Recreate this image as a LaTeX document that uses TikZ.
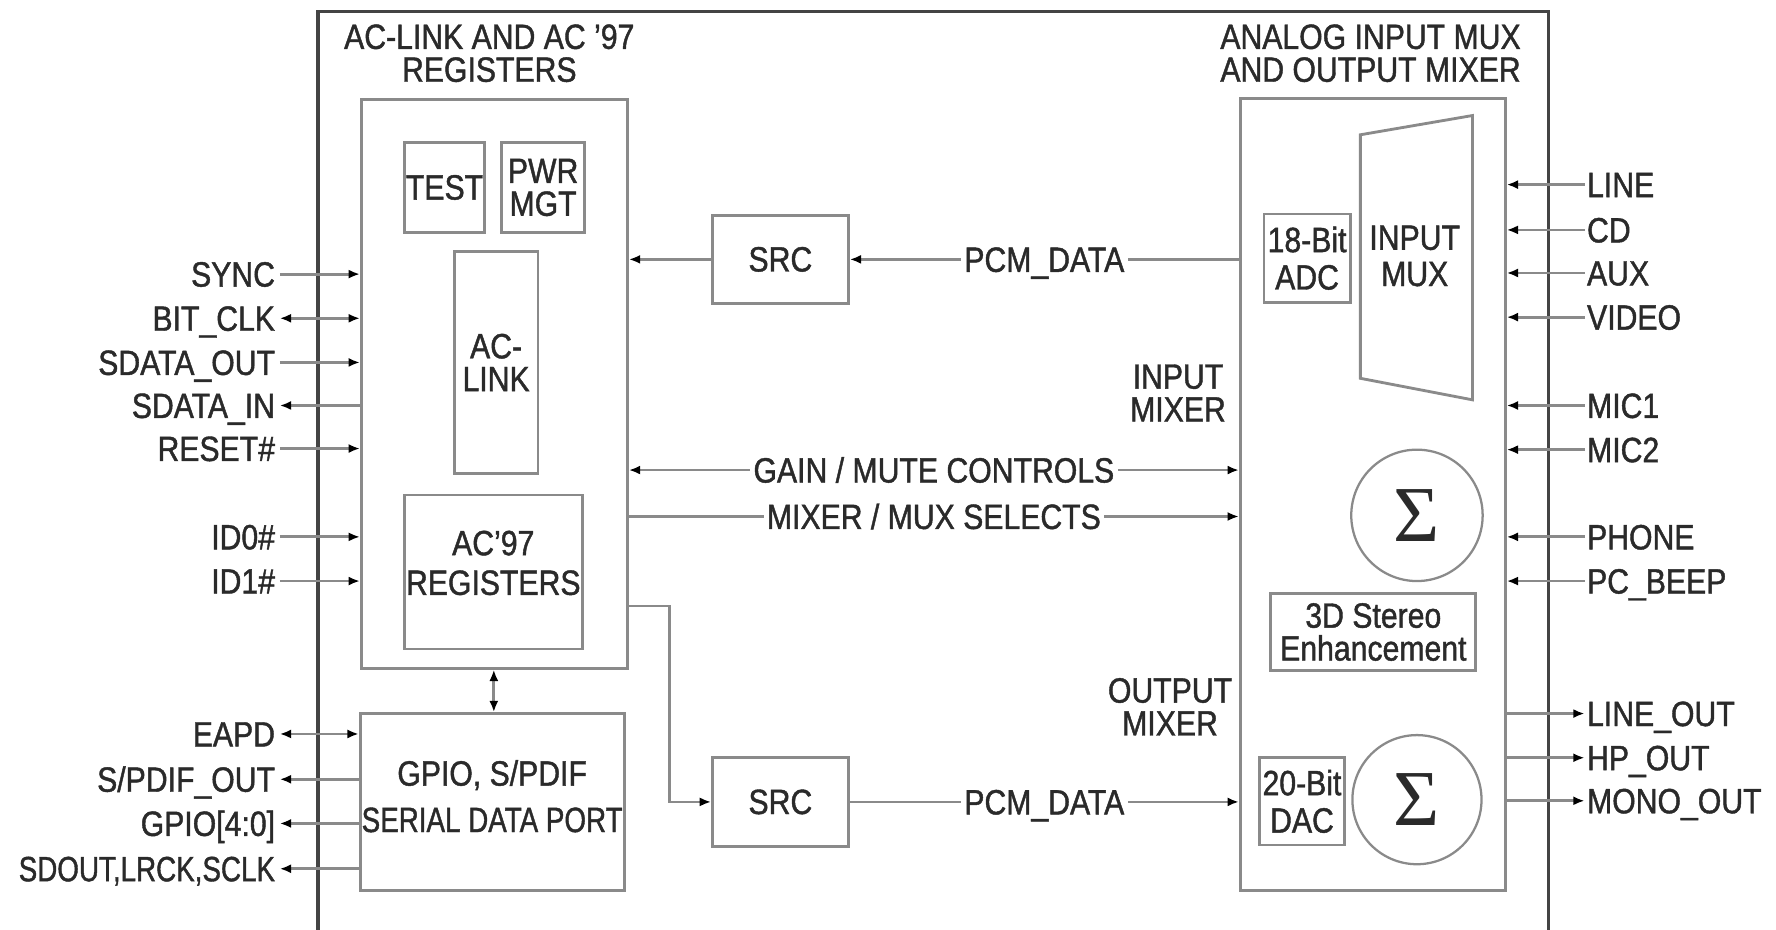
\documentclass[tikz,border=0pt]{standalone}
\usepackage{fontspec}
\setmainfont{Liberation Sans}[FakeStretch=0.86,FakeBold=1.2]
\newfontfamily\sigfont{Liberation Serif}
\usetikzlibrary{arrows.meta}
\definecolor{txt}{HTML}{2A2A2A}
\definecolor{ln}{HTML}{8A8A8A}
\definecolor{frm}{HTML}{444444}
\begin{document}
\begin{tikzpicture}[x=1pt,y=-1pt,
  font=\fontsize{31}{29}\selectfont, text=txt,
  >={Latex[length=10pt,width=8pt,color=black]},
  blk/.style={draw=ln, line width=2.5pt, inner sep=0pt, align=center},
  sig/.style={draw=ln, line width=2.5pt},
  lbl/.style={inner sep=0pt, text height=22pt, text depth=0pt},
  ttl/.style={inner sep=0pt, align=center},
  onl/.style={fill=white, inner sep=3pt, text height=22pt, text depth=0pt}]
\useasboundingbox (0,0) rectangle (1568,821);
% outer frame (open at bottom)
\draw[frm, line width=3.2pt] (281,821) -- (281,10) -- (1367,10) -- (1367,821);
% titles
\node[ttl] (t1) at (432,47) {AC-LINK AND AC '97\\REGISTERS};
\node[ttl] (t2) at (1210,47) {ANALOG INPUT MUX\\AND OUTPUT MIXER};
% left blocks
\node[blk, minimum width=235pt, minimum height=502pt] (acl) at (436.5,339) {};
\node[blk, minimum width=71pt, minimum height=79pt] (test) at (392.5,165.5) {TEST};
\node[blk, minimum width=73pt, minimum height=79pt] (pwr) at (479.5,165.5) {PWR\\MGT};
\node[blk, minimum width=74pt, minimum height=196pt] (link) at (438,320) {AC-\\LINK};
\node[blk, minimum width=157pt, minimum height=136pt,
  label={[ttl,yshift=8pt]center:{AC'97\\[6pt]REGISTERS}}] (regs) at (435.5,505) {};
\node[blk, minimum width=233pt, minimum height=156pt,
  label={[ttl,yshift=5pt]center:{GPIO, S/PDIF\\[12pt]\scalebox{0.92}[1]{SERIAL DATA PORT}}}] (gpio) at (434.5,708) {};
% SRC blocks
\node[blk, minimum width=120pt, minimum height=78pt] (src1) at (689,229) {SRC};
\node[blk, minimum width=120pt, minimum height=78pt] (src2) at (689,708) {SRC};
% right blocks
\node[blk, minimum width=234pt, minimum height=699pt] (amx) at (1212,436.5) {};
\node[blk, minimum width=76pt, minimum height=78pt] (adc) at (1154,228) {18-Bit\\[4pt]ADC};
\draw[ln, line width=2.5pt] (1201,119) -- (1300,102) -- (1300,353) -- (1201,334) -- cycle;
\node[ttl] (mux) at (1249,226) {INPUT\\[3pt]MUX};
\node[blk, circle, minimum size=116pt, line width=2pt] (sig1) at (1251,455) {\sigfont\fontsize{70}{70}\selectfont Σ};
\node[blk, circle, minimum size=114pt, line width=2pt] (sig2) at (1251,706) {\sigfont\fontsize{70}{70}\selectfont Σ};
\node[blk, minimum width=181pt, minimum height=68pt] (enh) at (1212.5,558) {3D Stereo\\Enhancement};
\node[blk, minimum width=75pt, minimum height=77pt] (dac) at (1149.5,707.5) {20-Bit\\[4pt]DAC};
\node[ttl] (imix) at (1040,347) {INPUT\\MIXER};
\node[ttl] (omix) at (1033,624) {OUTPUT\\MIXER};
% internal connectors
\draw[sig,->] (amx.west |- src1) -- node[onl] {PCM\_DATA} (src1.east);
\draw[sig,->] (src1.west) -- (acl.east |- src1);
\coordinate (gm) at (700,415);
\coordinate (ms) at (700,456);
\coordinate (jog) at (591,535);
\draw[sig,<->] (acl.east |- gm) -- node[onl] {GAIN / MUTE CONTROLS} (amx.west |- gm);
\draw[sig,->] (acl.east |- ms) -- node[onl] {MIXER / MUX SELECTS} (amx.west |- ms);
\draw[sig,->] (acl.east |- jog) -- (jog) |- (src2.west);
\draw[sig,->] (src2.east) -- node[onl] {PCM\_DATA} (amx.west |- src2);
\draw[sig,<->] (acl.south -| 436,0) -- (gpio.north -| 436,0);
% left signals
\node[lbl,anchor=east] (sync) at (243,242) {SYNC};
\node[lbl,anchor=east] (bclk) at (243,281) {BIT\_CLK};
\node[lbl,anchor=east] (sdo) at (243,320) {SDATA\_OUT};
\node[lbl,anchor=east] (sdi) at (243,358) {SDATA\_IN};
\node[lbl,anchor=east] (rst) at (243,396) {RESET\#};
\node[lbl,anchor=east] (id0) at (243,474) {ID0\#};
\node[lbl,anchor=east] (id1) at (243,513) {ID1\#};
\node[lbl,anchor=east] (eapd) at (243,648) {EAPD};
\node[lbl,anchor=east] (spd) at (243,688) {S/PDIF\_OUT};
\node[lbl,anchor=east] (gp) at (243,727) {GPIO[4:0]};
\node[lbl,anchor=east] (sdout) at (243,767) {\scalebox{0.92}[1]{SDOUT,LRCK,SCLK}};
\draw[sig,->,shorten <=4pt] (sync.east) -- (sync -| acl.west);
\draw[sig,<->,shorten <=4pt] (bclk.east) -- (bclk -| acl.west);
\draw[sig,->,shorten <=4pt] (sdo.east) -- (sdo -| acl.west);
\draw[sig,<-,shorten <=4pt] (sdi.east) -- (sdi -| acl.west);
\draw[sig,->,shorten <=4pt] (rst.east) -- (rst -| acl.west);
\draw[sig,->,shorten <=4pt] (id0.east) -- (id0 -| acl.west);
\draw[sig,->,shorten <=4pt] (id1.east) -- (id1 -| acl.west);
\draw[sig,<->,shorten <=4pt] (eapd.east) -- (eapd -| gpio.west);
\draw[sig,<-,shorten <=4pt] (spd.east) -- (spd -| gpio.west);
\draw[sig,<-,shorten <=4pt] (gp.east) -- (gp -| gpio.west);
\draw[sig,<-,shorten <=4pt] (sdout.east) -- (sdout -| gpio.west);
% right signals
\node[lbl,anchor=west] (rline) at (1401,163) {LINE};
\node[lbl,anchor=west] (rcd) at (1401,203) {CD};
\node[lbl,anchor=west] (raux) at (1401,241) {AUX};
\node[lbl,anchor=west] (rvid) at (1401,280) {VIDEO};
\node[lbl,anchor=west] (rmic1) at (1401,358) {MIC1};
\node[lbl,anchor=west] (rmic2) at (1401,397) {MIC2};
\node[lbl,anchor=west] (rph) at (1401,474) {PHONE};
\node[lbl,anchor=west] (rpc) at (1401,513) {PC\_BEEP};
\node[lbl,anchor=west] (rlo) at (1401,630) {LINE\_OUT};
\node[lbl,anchor=west] (rhp) at (1401,669) {HP\_OUT};
\node[lbl,anchor=west] (rmo) at (1401,707) {MONO\_OUT};
\foreach \n in {rline,rcd,raux,rvid,rmic1,rmic2,rph,rpc}
  \draw[sig,<-,shorten >=2pt] (\n -| amx.east) -- (\n.west);
\foreach \n in {rlo,rhp,rmo}
  \draw[sig,->,shorten >=2pt] (\n -| amx.east) -- (\n.west);
\end{tikzpicture}
\end{document}
